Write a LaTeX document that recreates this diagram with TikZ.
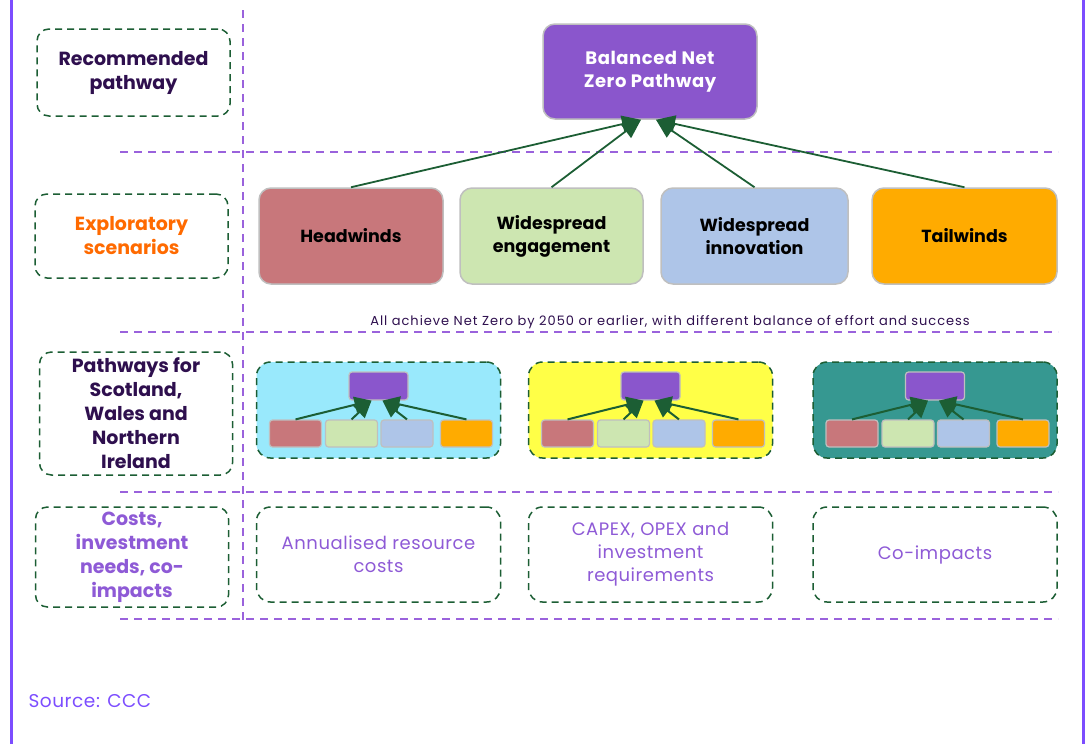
\documentclass[tikz,border=0pt]{standalone}
\usepackage{fontspec}
\setmainfont{Poppins}
\newfontfamily\wideFont[LetterSpace=7.5]{Poppins}
\newfontfamily\softFont[LetterSpace=3]{Poppins}
\usetikzlibrary{positioning,arrows.meta}

\definecolor{framePurple}{HTML}{7C4DFF}
\definecolor{rulePurple}{HTML}{9A62DC}
\definecolor{darkGreen}{HTML}{1C5E34}
\definecolor{labelDark}{HTML}{2E0F4E}
\definecolor{labelOrange}{HTML}{FF6A00}
\definecolor{costPurple}{HTML}{8E5AD6}
\definecolor{bnzPurple}{HTML}{8A56CC}
\definecolor{headRed}{HTML}{C8777B}
\definecolor{engGreen}{HTML}{CDE6B1}
\definecolor{innoBlue}{HTML}{AEC5E8}
\definecolor{tailOrange}{HTML}{FFAB00}
\definecolor{cyanBox}{HTML}{99E9FC}
\definecolor{yellowBox}{HTML}{FFFF47}
\definecolor{tealBox}{HTML}{369891}

\tikzset{
  labelbox/.style={draw=darkGreen, line width=1.5pt, dash pattern=on 7pt off 5pt,
    rounded corners=12pt, minimum width=193pt, align=center,
    font=\fontsize{19}{24}\selectfont\bfseries},
  scenbox/.style={draw=black!25, line width=1.5pt, rounded corners=12pt,
    minimum width=184pt, minimum height=96pt, align=center,
    font=\fontsize{17.5}{23}\selectfont\bfseries},
  groupbox/.style={draw=darkGreen, line width=1.5pt, dash pattern=on 7pt off 5pt,
    rounded corners=14pt, minimum width=244pt, minimum height=96pt, align=center},
  costtext/.style={text=costPurple, font=\fontsize{18}{23}\selectfont\softFont},
  minibox/.style={draw=black!25, line width=1.2pt, rounded corners=3pt,
    minimum width=52pt, minimum height=27pt, inner sep=0pt},
  link/.style={draw=darkGreen, line width=1.8pt, -{Triangle[width=17pt,length=19pt]}},
  minilink/.style={draw=darkGreen, line width=2pt, -{Triangle[width=16pt,length=17pt]}},
  rule/.style={rulePurple, line width=1.5pt, dash pattern=on 8pt off 6pt}
}

\begin{document}
\begin{tikzpicture}[x=1pt, y=-1pt]
  \useasboundingbox (0,0) rectangle (1086,744);

  % frame
  \draw[framePurple, line width=3pt] (11.5,0) -- (11.5,744);
  \draw[framePurple, line width=3pt] (1083,0) -- (1083,744);

  % row rules
  \draw[rule] (243,10) -- (243,620);
  \foreach \y in {152,332,492,619}
    \draw[rule] (120,\y) -- (1058,\y);

  % row labels
  \node[labelbox, minimum height=87pt, text=labelDark] (recLabel) at (133.5,72.5) {Recommended\\pathway};
  \node[labelbox, minimum height=84pt, text=labelOrange] (explLabel) at (131.5,236) {Exploratory\\scenarios};
  \node[labelbox, minimum height=123pt, text=labelDark, inner sep=0pt] (pwLabel) at (136,413.5) {Pathways for\\Scotland,\\Wales and\\Northern\\Ireland};
  \node[labelbox, minimum height=100pt, text=costPurple, inner sep=0pt] (costLabel) at (132,557) {Costs,\\investment\\needs, co-\\impacts};

  % recommended pathway
  \node[scenbox, fill=bnzPurple, text=white, minimum width=214pt, minimum height=95pt,
    font=\fontsize{18}{23}\selectfont\bfseries\addfontfeatures{LetterSpace=3}] (bnz) at (650,71.5) {Balanced Net\\Zero Pathway};

  % exploratory scenarios
  \node[scenbox, fill=headRed] (head) at (351,236) {Headwinds};
  \node[scenbox, fill=engGreen, minimum width=183pt] (eng) at (551.5,236) {Widespread\\engagement};
  \node[scenbox, fill=innoBlue, minimum width=187pt] (inno) at (754.5,236) {Widespread\\innovation};
  \node[scenbox, fill=tailOrange, minimum width=185pt] (tail) at (964.5,236) {Tailwinds};

  \draw[link] (head.north) -- ([xshift=-9pt]bnz.south);
  \draw[link] (eng.north) -- ([xshift=-9pt]bnz.south);
  \draw[link] (inno.north) -- ([xshift=6pt]bnz.south);
  \draw[link] (tail.north) -- ([xshift=6pt]bnz.south);

  \node[text=labelDark, font=\fontsize{13}{15}\selectfont\wideFont] (allNote) at (670,322) {All achieve Net Zero by 2050 or earlier, with different balance of effort and success};

  % nations: small copies of the scenario tree
  \foreach \g/\cx/\boxc in {1/378.5/cyanBox, 2/650.5/yellowBox, 3/935/tealBox} {
    \node[groupbox, fill=\boxc] (grp\g) at (\cx,410) {};
    \node[minibox, fill=bnzPurple, minimum width=59pt, minimum height=28pt] (top\g) at (\cx,386) {};
    \foreach \s/\dx/\c in {a/-83/headRed, b/-27/engGreen, c/28.5/innoBlue, d/88/tailOrange}
      \node[minibox, fill=\c] (\s\g) at ({\cx+(\dx)},433.5) {};
    \draw[minilink] (a\g.north) -- ([xshift=-7pt]top\g.south);
    \draw[minilink] (b\g.north) -- ([xshift=-7pt]top\g.south);
    \draw[minilink] (c\g.north) -- ([xshift=4pt]top\g.south);
    \draw[minilink] (d\g.north) -- ([xshift=4pt]top\g.south);
  }

  % costs
  \node[groupbox, minimum height=95pt, costtext] (annual) at (378.5,554.5) {Annualised resource\\costs};
  \node[groupbox, minimum height=95pt, costtext] (capex) at (650.5,554.5) {CAPEX, OPEX and\\investment\\requirements};
  \node[groupbox, minimum height=95pt, costtext] (coimp) at (935,554.5) {Co-impacts};

  \node[anchor=west, text=framePurple, font=\fontsize{18.5}{20}\selectfont\softFont] (source) at (25,701) {Source: CCC};

\end{tikzpicture}
\end{document}
